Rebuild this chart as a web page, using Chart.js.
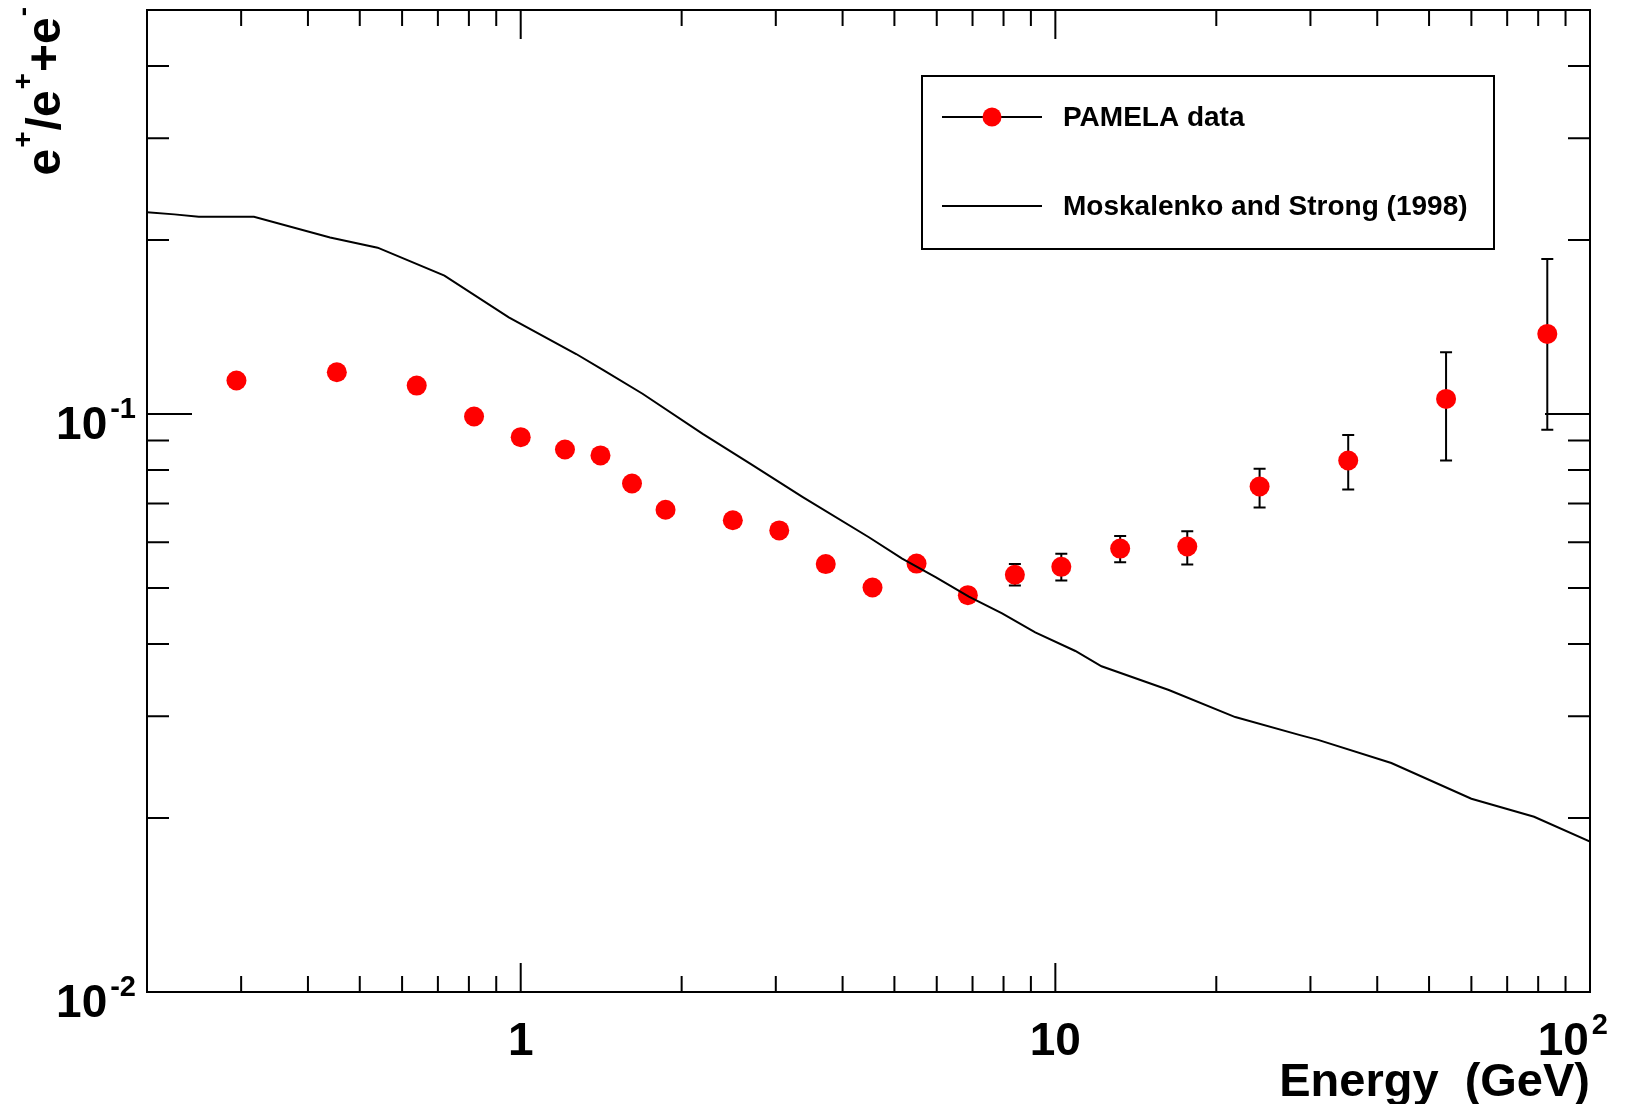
<!DOCTYPE html>
<html>
<head>
<meta charset="utf-8">
<script src="https://cdn.jsdelivr.net/npm/chart.js@4.4.0/dist/chart.umd.min.js"></script>
<style>
  body { margin: 0; background: #fff; }
  #wrap { width: 1629px; height: 1104px; }
</style>
</head>
<body>
<div id="wrap"><canvas id="chart" width="1629" height="1104"></canvas></div>
<script>
// PAMELA positron fraction
const energy = [0.294, 0.453, 0.639, 0.818, 1.00, 1.21, 1.41, 1.615, 1.866, 2.493, 3.045, 3.72,
  4.55, 5.50, 6.86, 8.40, 10.26, 13.22, 17.65, 24.1, 35.3, 53.8, 83.2];
const ratio = [0.1143, 0.1181, 0.1120, 0.0990, 0.0912, 0.0868, 0.0848, 0.0758, 0.0683, 0.0655, 0.0629, 0.0550,
  0.0501, 0.0551, 0.0486, 0.0527, 0.0544, 0.0585, 0.0590, 0.0749, 0.0831, 0.1062, 0.1376];
const ratioLow = [null, null, null, null, null, null, null, null, null, null, null, null,
  null, null, null, 0.0505, 0.0515, 0.0554, 0.0549, 0.0689, 0.0740, 0.0831, 0.0939];
const ratioHigh = [null, null, null, null, null, null, null, null, null, null, null, null,
  null, null, null, 0.0550, 0.0573, 0.0615, 0.0627, 0.0804, 0.0920, 0.1279, 0.1854];

// Moskalenko and Strong (1998)
const modelEnergy = [0.2, 0.225, 0.25, 0.317, 0.44, 0.54, 0.72, 0.95, 1.27, 1.43, 1.69, 2.19, 2.7, 3.37,
  4.48, 5.17, 5.97, 6.89, 7.95, 9.17, 10.9, 12.2, 16.3, 21.7, 28.8, 31, 42.5, 60, 78.6, 100];
const modelRatio = [0.2233, 0.2215, 0.2195, 0.2194, 0.202, 0.194, 0.1735, 0.147, 0.127, 0.119, 0.1084, 0.0924, 0.0818, 0.0718,
  0.0612, 0.0562, 0.0522, 0.0483, 0.0452, 0.0419, 0.0389, 0.0366, 0.0333, 0.0299, 0.0278, 0.0273, 0.0249, 0.0216, 0.0201, 0.0182];

// axis labels
const xLabelValues = [1, 10, 100];
const xLabelBase   = ['1', '10', '10'];
const xLabelExp    = ['', '', '2'];
const yLabelValues = [0.1, 0.01];
const yLabelBase   = ['10', '10'];
const yLabelExp    = ['-1', '-2'];

const seriesNames = ['PAMELA data', 'Moskalenko and Strong (1998)'];

const FONT = '"Liberation Sans", Arial, sans-serif';

function logTicks(min, max) {
  const out = [];
  for (let d = Math.floor(Math.log10(min)); d <= Math.ceil(Math.log10(max)); d++) {
    for (let m = 1; m <= 9; m++) {
      const v = m * Math.pow(10, d);
      if (v > min * 1.0001 && v < max * 0.9999) out.push({ v, major: m === 1 });
    }
  }
  return out;
}

// base text with optional superscript; returns total width
function drawPower(ctx, base, exp, x, y, align, size) {
  ctx.font = `bold ${size}px ${FONT}`;
  const wb = ctx.measureText(base).width;
  const supSize = Math.round(size * 0.62);
  ctx.font = `bold ${supSize}px ${FONT}`;
  const we = exp ? ctx.measureText(exp).width + 3 : 0;
  const total = wb + we;
  let start = x;
  if (align === 'center') start = x - wb / 2;
  if (align === 'right') start = x - total;
  ctx.textAlign = 'left';
  ctx.textBaseline = 'alphabetic';
  ctx.font = `bold ${size}px ${FONT}`;
  ctx.fillText(base, start, y);
  if (exp) {
    ctx.font = `bold ${supSize}px ${FONT}`;
    ctx.fillText(exp, start + wb + 3, y - size * 0.45);
  }
  return total;
}

const rootFrame = {
  id: 'rootFrame',
  beforeDatasetsDraw(chart) {
    const { ctx, scales: { x, y } } = chart;
    ctx.save();
    ctx.strokeStyle = '#000';
    ctx.lineWidth = 2;
    energy.forEach((e, i) => {
      if (ratioLow[i] == null) return;
      const px = x.getPixelForValue(e);
      const top = y.getPixelForValue(ratioHigh[i]);
      const bot = y.getPixelForValue(ratioLow[i]);
      ctx.beginPath();
      ctx.moveTo(px, top); ctx.lineTo(px, bot);
      ctx.moveTo(px - 6, top); ctx.lineTo(px + 6, top);
      ctx.moveTo(px - 6, bot); ctx.lineTo(px + 6, bot);
      ctx.stroke();
    });
    ctx.restore();
  },
  afterDatasetsDraw(chart) {
    const { ctx, chartArea: a, scales: { x, y } } = chart;
    ctx.save();
    ctx.strokeStyle = '#000';
    ctx.fillStyle = '#000';
    ctx.lineWidth = 2;
    ctx.strokeRect(a.left, a.top, a.right - a.left, a.bottom - a.top);

    // ticks, drawn inward like ROOT
    ctx.beginPath();
    logTicks(x.min, x.max).forEach(t => {
      const px = x.getPixelForValue(t.v);
      const len = t.major ? 29 : 16;
      ctx.moveTo(px, a.bottom); ctx.lineTo(px, a.bottom - len);
      ctx.moveTo(px, a.top); ctx.lineTo(px, a.top + len);
    });
    logTicks(y.min, y.max).forEach(t => {
      const py = y.getPixelForValue(t.v);
      const len = t.major ? 45 : 22;
      ctx.moveTo(a.left, py); ctx.lineTo(a.left + len, py);
      ctx.moveTo(a.right, py); ctx.lineTo(a.right - len, py);
    });
    ctx.stroke();

    // tick labels
    xLabelValues.forEach((v, i) => {
      const px = x.getPixelForValue(v);
      if (xLabelExp[i]) drawPower(ctx, xLabelBase[i], xLabelExp[i], px + 18, 1055, 'right', 46);
      else drawPower(ctx, xLabelBase[i], '', px, 1055, 'center', 46);
    });
    yLabelValues.forEach((v, i) => {
      const py = y.getPixelForValue(v);
      drawPower(ctx, yLabelBase[i], yLabelExp[i], 136, py + 25, 'right', 46);
    });

    // axis titles
    ctx.font = `bold 47px ${FONT}`;
    ctx.textAlign = 'right';
    ctx.textBaseline = 'alphabetic';
    ctx.fillText('Energy  (GeV)', a.right, 1096);

    const parts = [['e', 0], ['+', 1], ['/', 0], ['e', 0], ['+', 1], ['+', 0], ['e', 0], ['-', 1]];
    const size = 48, sup = 28;
    let total = 0;
    parts.forEach(([s, isSup]) => {
      ctx.font = `bold ${isSup ? sup : size}px ${FONT}`;
      total += ctx.measureText(s).width + (isSup ? 2 : 0);
    });
    ctx.translate(60, 6);
    ctx.rotate(-Math.PI / 2);
    ctx.textAlign = 'left';
    let cx = -total;
    parts.forEach(([s, isSup]) => {
      ctx.font = `bold ${isSup ? sup : size}px ${FONT}`;
      ctx.fillText(s, cx + (isSup ? 1 : 0), isSup ? -28 : 0);
      cx += ctx.measureText(s).width + (isSup ? 2 : 0);
    });
    ctx.restore();

    // legend
    ctx.save();
    ctx.strokeStyle = '#000';
    ctx.lineWidth = 2;
    ctx.fillStyle = '#fff';
    ctx.fillRect(922, 76, 572, 173);
    ctx.strokeRect(922, 76, 572, 173);
    const rows = [117, 206];
    ctx.beginPath();
    rows.forEach(ry => { ctx.moveTo(942, ry); ctx.lineTo(1042, ry); });
    ctx.stroke();
    ctx.fillStyle = '#ff0000';
    ctx.beginPath();
    ctx.arc(992, rows[0], 9.5, 0, Math.PI * 2);
    ctx.fill();
    ctx.fillStyle = '#000';
    ctx.font = `bold 28px ${FONT}`;
    ctx.textAlign = 'left';
    ctx.textBaseline = 'middle';
    seriesNames.forEach((n, i) => ctx.fillText(n, 1063, rows[i] + 1));
    ctx.restore();
  }
};

new Chart(document.getElementById('chart'), {
  type: 'scatter',
  data: {
    datasets: [
      {
        label: seriesNames[1],
        type: 'line',
        data: modelEnergy.map((e, i) => ({ x: e, y: modelRatio[i] })),
        borderColor: '#000',
        borderWidth: 2,
        pointRadius: 0,
        tension: 0,
        fill: false,
      },
      {
        label: seriesNames[0],
        data: energy.map((e, i) => ({ x: e, y: ratio[i] })),
        backgroundColor: '#ff0000',
        borderWidth: 0,
        pointRadius: 10,
      },
    ],
  },
  options: {
    responsive: false,
    animation: false,
    layout: { padding: { left: 147, right: 39, top: 8, bottom: 112 } },
    plugins: {
      legend: { display: false },
      tooltip: { enabled: false },
    },
    scales: {
      x: { type: 'logarithmic', min: 0.2, max: 100, display: false },
      y: { type: 'logarithmic', min: 0.01, max: 0.5, display: false },
    },
  },
  plugins: [rootFrame],
});
</script>
</body>
</html>
